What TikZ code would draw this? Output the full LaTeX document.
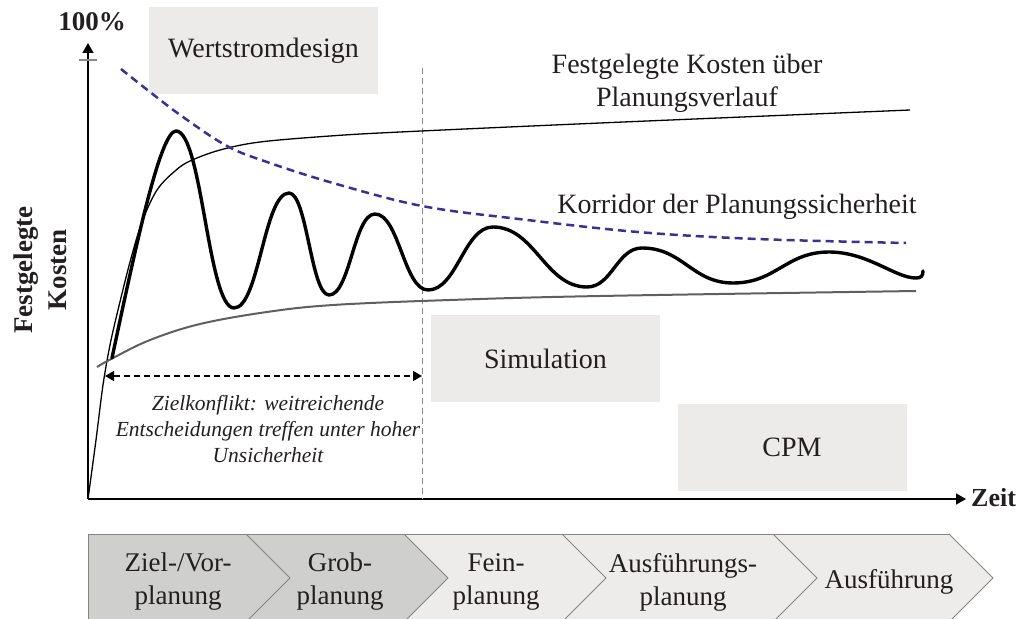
\documentclass[tikz,border=0pt]{standalone}
\usepackage{fontspec}
\setmainfont{Liberation Serif}
\usetikzlibrary{arrows.meta}

\definecolor{ink}{HTML}{231F20}
\definecolor{boxgray}{HTML}{ECEBE9}
\definecolor{chevdark}{HTML}{CFCFCE}
\definecolor{chevlight}{HTML}{EDECEB}
\definecolor{chevline}{HTML}{858585}
\definecolor{corridor}{HTML}{3A3290}
\definecolor{floorgray}{HTML}{5F5F5F}
\definecolor{guidegray}{HTML}{8A8A8A}

\begin{document}
\begin{tikzpicture}[x=1pt,y=-1pt,
  txt/.style={text=ink, inner sep=0pt, font=\fontsize{28}{33}\selectfont},
  toolbox/.style={txt, fill=boxgray, minimum width=229pt, minimum height=87pt},
  phase/.style={txt, align=center, font=\fontsize{27}{33}\selectfont},
  axis/.style={line width=1.5pt, -{Triangle[length=10pt,width=11pt]}},
  chev/.style={draw=chevline, line width=1pt, line join=miter},
  wave/.style={line width=3.4pt, line cap=round, line join=round},
]
\useasboundingbox (0,0) rectangle (1019,618);
\clip (0,0) rectangle (1019,618);

% tool boxes
\node[toolbox] (wsd) at (263.5,50.5) {Wertstromdesign};
\node[toolbox] (sim) at (545.5,358.5) {Simulation};
\node[toolbox] (cpm) at (792,447) {CPM};

% axes
\coordinate (O) at (88,499);
\coordinate (ytop) at (88,43);
\coordinate (xend) at (966,499);
\coordinate (tickL) at (79,60);
\coordinate (tickR) at (97,60);
\draw[axis] (O) -- (ytop);
\draw[axis] (O) -- (xend);
\draw[guidegray, line width=1.5pt] (tickL) -- (tickR);

\node[txt, font=\bfseries\fontsize{27}{30}\selectfont] (pct) at (92,22) {100\%};
\node[txt, anchor=west, font=\bfseries\fontsize{26}{30}\selectfont] (zeit) at (971,498) {Zeit};
\node[txt, rotate=90, align=center, font=\bfseries\fontsize{27}{34}\selectfont] (ylab) at (40,270) {Festgelegte\\Kosten};

% boundary between early and late planning
\coordinate (sepT) at (422,68);
\coordinate (sepB) at (422,499);
\draw[guidegray, line width=1pt, dash pattern=on 6pt off 4pt] (sepT) -- (sepB);

% committed costs over the planning course
\draw[line width=1.3pt, black] plot[smooth, tension=0.55] coordinates {
  (88,499) (96,440) (103,385) (110,345) (118,310) (130,262) (142,222)
  (157,190) (175,171) (190,161) (220,150) (260,142) (330,136) (400,132)
  (600,123) (910,110)};

% lower bound
\draw[floorgray, line width=2pt] plot[smooth, tension=0.6] coordinates {
  (97,367) (113,358) (150,340) (200,324) (267,312) (333,305) (450,300)
  (600,296) (916,291)};

% corridor of planning certainty
\draw[corridor, line width=2.5pt, dash pattern=on 8pt off 5pt] plot[smooth, tension=0.6] coordinates {
  (121,69) (150,92) (183,117) (227,146) (267,162) (333,183) (422,206)
  (519,219) (638,232) (757,239) (906,243)};

% oscillating planning estimate
\draw[wave] (112,358) .. controls (135,250) and (160,131) .. (176,131)
  .. controls (202,131) and (208,308) .. (234,308)
  .. controls (259,308) and (264,193) .. (289,193)
  .. controls (307,193) and (311,295) .. (329,295)
  .. controls (350,295) and (354,214) .. (375,214)
  .. controls (399,214) and (404,290) .. (428,290)
  .. controls (457,290) and (464,227) .. (493,227)
  .. controls (535,227) and (545,287) .. (587,287)
  .. controls (612,287) and (617,248) .. (642,248)
  .. controls (683,248) and (692,283) .. (733,283)
  .. controls (776,283) and (786,252) .. (829,252)
  .. controls (868,252) and (895,278) .. (916,278)
  .. controls (921,278) and (923,276) .. (923,271);

% labels of the curves
\node[txt, align=center] (fk) at (687,83) {Festgelegte Kosten über\\Planungsverlauf};
\node[txt] (kps) at (737,207) {Korridor der Planungssicherheit};

% goal conflict span
\coordinate (za) at (105,376);
\coordinate (zb) at (422,376);
\draw[line width=1.5pt, dash pattern=on 6pt off 4pt,
  {Triangle[length=9pt,width=10pt]}-{Triangle[length=9pt,width=10pt]}] (za) -- (zb);
\node[txt, align=center, font=\itshape\fontsize{21.5}{26}\selectfont] (zk) at (268,429)
  {Zielkonflikt: weitreichende\\Entscheidungen treffen unter hoher\\Unsicherheit};

% planning phases: fills first, then outlines
\fill[chevdark] (88,534) -- (246,534) -- (290,578) -- (246,622) -- (88,622) -- cycle;
\fill[chevdark] (246,534) -- (404,534) -- (448,578) -- (404,622) -- (246,622) -- (290,578) -- cycle;
\fill[chevlight] (404,534) -- (562,534) -- (606,578) -- (562,622) -- (404,622) -- (448,578) -- cycle;
\fill[chevlight] (562,534) -- (773,534) -- (817,578) -- (773,622) -- (562,622) -- (606,578) -- cycle;
\fill[chevlight] (773,534) -- (949,534) -- (993,578) -- (949,622) -- (773,622) -- (817,578) -- cycle;
\draw[chev] (88,622) -- (88,534) -- (949,534);
\draw[chev] (246,534) -- (290,578) -- (246,622);
\draw[chev] (404,534) -- (448,578) -- (404,622);
\draw[chev] (562,534) -- (606,578) -- (562,622);
\draw[chev] (773,534) -- (817,578) -- (773,622);
\draw[chev] (949,534) -- (993,578) -- (949,622);

\node[phase] (p1) at (178,582) {Ziel-/Vor-\\planung};
\node[phase] (p2) at (340,582) {Grob-\\planung};
\node[phase] (p3) at (496,582) {Fein-\\planung};
\node[phase] (p4) at (683,582) {Ausführungs-\\planung};
\node[phase] (p5) at (889,582) {Ausführung};
\end{tikzpicture}
\end{document}
